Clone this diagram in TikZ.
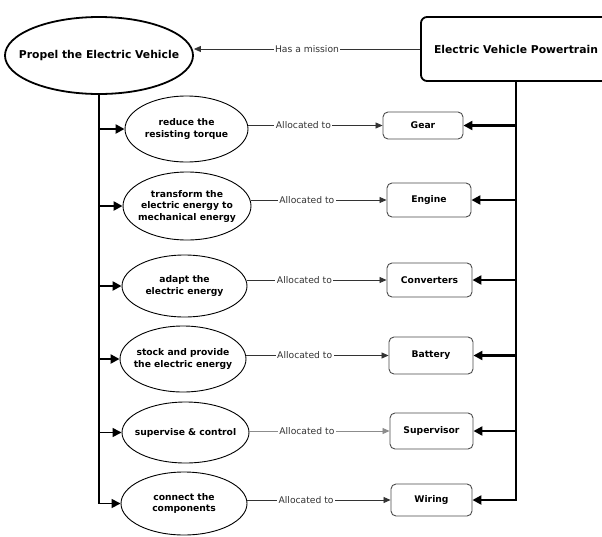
\documentclass[tikz,border=0pt]{standalone}
\usepackage{fontspec}
\setmainfont{DejaVu Sans}
\usetikzlibrary{arrows.meta,shapes.geometric}

\tikzset{
  func/.style={ellipse, draw=black, line width=0.9pt, inner xsep=-12pt, inner ysep=-7pt, align=center,
    font=\fontsize{9.2}{11.5}\selectfont\bfseries},
  goal/.style={ellipse, draw=black, line width=1.8pt, inner xsep=-15pt, inner ysep=0pt,
    minimum width=188pt, minimum height=77pt, font=\fontsize{10.8}{13}\selectfont\bfseries},
  system/.style={rectangle, rounded corners=6pt, draw=black, line width=1.8pt, inner sep=0pt,
    minimum width=190pt, minimum height=64pt, font=\fontsize{10.8}{13}\selectfont\bfseries},
  part/.style={rectangle, rounded corners=5pt, draw=black!70, line width=0.9pt, inner sep=0pt,
    font=\fontsize{9.2}{11}\selectfont\bfseries},
  alloc/.style={draw=black!80, line width=0.8pt, -{Triangle[length=7pt,width=6pt]}},
  lbl/.style={fill=white, inner sep=1.5pt, text=black!80, font=\fontsize{9.2}{11}\selectfont},
  spine/.style={draw=black, line width=2.4pt},
  feed/.style={draw=black, line width=2.4pt, -{Triangle[length=9pt,width=9pt]}},
}

\begin{document}
\begin{tikzpicture}[x=1pt,y=-1pt]
\useasboundingbox (0,0) rectangle (602,536);
\clip (0,0) rectangle (602,536);
\fill[white] (0,0) rectangle (602,536);

% mission and system
\node[goal] (mission) at (99,55.5) {Propel the Electric Vehicle};
\node[system] (pt) at (516,49) {Electric Vehicle Powertrain};

% functions
\node[func, minimum width=123pt, minimum height=66pt] (f1) at (186.5,129) {reduce the\\resisting torque};
\node[func, minimum width=128pt, minimum height=68pt] (f2) at (187,206) {transform the\\electric energy to\\mechanical energy};
\node[func, minimum width=125pt, minimum height=62pt] (f3) at (184.5,286) {adapt the\\electric energy};
\node[func, minimum width=126pt, minimum height=66pt] (f4) at (183,359) {stock and provide\\the electric energy};
\node[func, minimum width=127pt, minimum height=61pt] (f5) at (185.5,432.5) {supervise \& control};
\node[func, minimum width=126pt, minimum height=63pt] (f6) at (184,503.5) {connect the\\components};

% components
\node[part, minimum width=80pt, minimum height=27pt] (c1) at (423,125.5) {Gear};
\node[part, minimum width=84pt, minimum height=34pt] (c2) at (429,200) {Engine};
\node[part, minimum width=85pt, minimum height=34pt] (c3) at (429.5,280) {Converters};
\node[part, minimum width=84pt, minimum height=37pt] (c4) at (431,355.5) {Battery};
\node[part, minimum width=83pt, minimum height=36pt] (c5) at (431.5,431) {Supervisor};
\node[part, minimum width=81pt, minimum height=32pt] (c6) at (431.5,500) {Wiring};

% system has a mission
\draw[alloc] (pt.west) -- node[lbl, pos=0.5] {Has a mission} (pt.west -| mission.east);

% allocations
\foreach \i in {1,2,3,4,6}{
  \draw[alloc] (f\i.east |- c\i.west) -- node[lbl, pos=0.41] {Allocated to} (c\i.west);
}
\draw[alloc, draw=black!45] (f5.east |- c5.west) -- node[lbl, pos=0.41] {Allocated to} (c5.west);

% left spine: mission decomposed into functions
\draw[spine] (mission.south) -- (mission.south |- f5.north);
\draw[draw=black, line width=1.6pt, -{Triangle[length=9pt,width=9pt]}]
  (mission.south |- f5.north) |- (f6.west);
\foreach \i in {1,2,3,4}{
  \draw[feed] (mission.south |- f\i.west) -- (f\i.west);
}
\draw[draw=black, line width=1.4pt, -{Triangle[length=9pt,width=9pt]}]
  (mission.south |- f5.west) -- (f5.west);

% right spine: system made of components
\draw[feed] (pt.south) |- (c6.east);
\foreach \i in {1,2,3,4,5}{
  \draw[feed] (pt.south |- c\i.east) -- (c\i.east);
}
\end{tikzpicture}
\end{document}
